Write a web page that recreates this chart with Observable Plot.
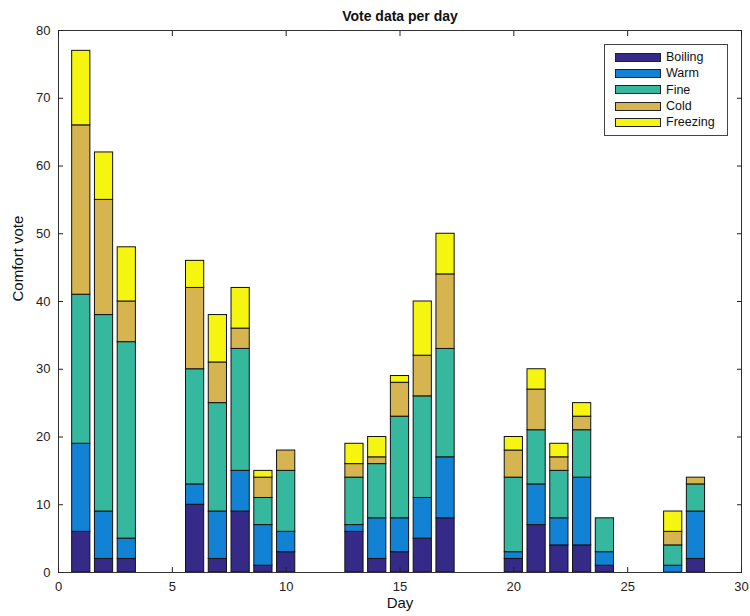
<!DOCTYPE html>
<html>
<head>
<meta charset="utf-8">
<script src="https://cdn.jsdelivr.net/npm/d3@7"></script>
<script src="https://cdn.jsdelivr.net/npm/@observablehq/plot@0.6"></script>
<style>
  html, body { margin: 0; padding: 0; background: #fff; }
  #wrap { position: relative; width: 750px; height: 616px; font-family: "Liberation Sans", Arial, sans-serif; }
  #legend { position: absolute; left: 604px; top: 44px; width: 124px; height: 92px; border: 1px solid #444; background: #fff; box-sizing: border-box; padding-top: 4px; }
  .row { display: flex; align-items: center; height: 16.3px; }
  .sw { width: 46px; height: 9px; border: 1px solid #222; margin-left: 10px; margin-right: 5px; box-sizing: border-box; }
  .lab { font-size: 12.5px; color: #111; }
</style>
</head>
<body>
<div id="wrap"></div>
<script>
const days = [1, 2, 3, 6, 7, 8, 9, 10, 13, 14, 15, 16, 17, 20, 21, 22, 23, 24, 27, 28];
const categories = ["Boiling", "Warm", "Fine", "Cold", "Freezing"];
const colors = ["#352a87", "#1283d4", "#35b89d", "#d6b450", "#f6f50f"];
const boiling  = [6, 2, 2, 10, 2, 9, 1, 3, 6, 2, 3, 5, 8, 2, 7, 4, 4, 1, 0, 2];
const warm     = [13, 7, 3, 3, 7, 6, 6, 3, 1, 6, 5, 6, 9, 1, 6, 4, 10, 2, 1, 7];
const fine     = [22, 29, 29, 17, 16, 18, 4, 9, 7, 8, 15, 15, 16, 11, 8, 7, 7, 5, 3, 4];
const cold     = [25, 17, 6, 12, 6, 3, 3, 3, 2, 1, 5, 6, 11, 4, 6, 2, 2, 0, 2, 1];
const freezing = [11, 7, 8, 4, 7, 6, 1, 0, 3, 3, 1, 8, 6, 2, 3, 2, 2, 0, 3, 0];
const xTicks = [0, 5, 10, 15, 20, 25, 30];
const yTicks = [0, 10, 20, 30, 40, 50, 60, 70, 80];

const series = [boiling, warm, fine, cold, freezing];
const rows = [];
days.forEach((day, i) => {
  let base = 0;
  series.forEach((vals, j) => {
    const v = vals[i];
    rows.push({day, category: categories[j], y1: base, y2: base + v});
    base += v;
  });
});
const bars = rows.filter(d => d.y2 > d.y1);
const halfW = 0.4;

const font = "Liberation Sans, Arial, sans-serif";
const chart = Plot.plot({
  width: 750,
  height: 616,
  marginLeft: 58,
  marginRight: 9,
  marginTop: 30,
  marginBottom: 44,
  style: {fontFamily: font, fontSize: "13px", color: "#222", background: "#fff"},
  x: {domain: [0, 30], ticks: xTicks, label: null},
  y: {domain: [0, 80], ticks: yTicks, label: null},
  color: {domain: categories, range: colors},
  marks: [
    Plot.rect(bars, {
      x1: d => d.day - halfW, x2: d => d.day + halfW,
      y1: "y1", y2: "y2",
      fill: "category", stroke: "#111", strokeWidth: 1
    }),
    Plot.frame({stroke: "#333", strokeWidth: 1}),
    Plot.axisX({anchor: "bottom", ticks: xTicks, tickSize: -5, tickPadding: 14, label: null, fontSize: 13}),
    Plot.axisX({anchor: "top", ticks: xTicks, tickSize: -5, tickFormat: () => "", label: null}),
    Plot.axisY({anchor: "left", ticks: yTicks, tickSize: -5, tickPadding: 13, label: null, fontSize: 13}),
    Plot.axisY({anchor: "right", ticks: yTicks, tickSize: -5, tickFormat: () => "", label: null}),
    Plot.text(["Vote data per day"], {frameAnchor: "top", dy: -19, fontWeight: "bold", fontSize: 14, fill: "#111"}),
    Plot.text(["Day"], {frameAnchor: "bottom", dy: 35, fontSize: 15, fill: "#111"}),
    Plot.text(["Comfort vote"], {frameAnchor: "left", dx: -40, rotate: -90, fontSize: 15, fill: "#111"})
  ]
});
const wrap = document.getElementById("wrap");
wrap.appendChild(chart);

const legend = document.createElement("div");
legend.id = "legend";
categories.forEach((c, i) => {
  const r = document.createElement("div");
  r.className = "row";
  const s = document.createElement("div");
  s.className = "sw";
  s.style.background = colors[i];
  const l = document.createElement("span");
  l.className = "lab";
  l.textContent = c;
  r.appendChild(s); r.appendChild(l);
  legend.appendChild(r);
});
wrap.appendChild(legend);
</script>
</body>
</html>
